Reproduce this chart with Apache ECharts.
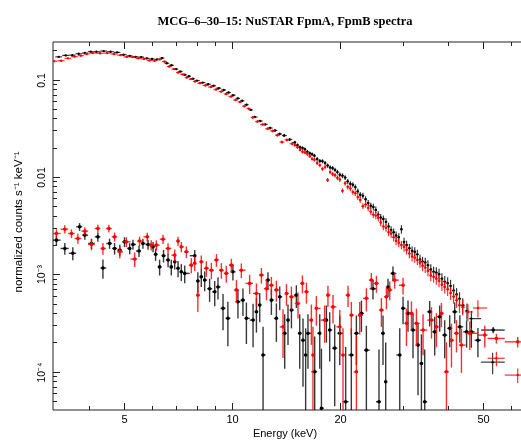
<!DOCTYPE html>
<html><head><meta charset="utf-8">
<script src="https://cdn.jsdelivr.net/npm/echarts@6/dist/echarts.min.js"></script>
<style>html,body{margin:0;padding:0;background:#fff;overflow:hidden;}#c{width:570px;height:440px;}</style>
</head><body><div id="c"></div>
<script>
(function () {
// ---- text ----
const titleText = 'MCG\u20136\u201330\u201315: NuSTAR FpmA, FpmB spectra';
const xAxisTitle = 'Energy (keV)';
const yAxisTitle = 'normalized counts s\u207B\u00B9 keV\u207B\u00B9';

// ---- axes ----
const xRange = [3.18, 79];
const yRange = [4.03e-5, 0.243];
const xMajorTicks = [5, 10, 20, 50];
const xTickLabels = ['5', '10', '20', '50'];
const xMinorTicks = [4, 6, 7, 8, 9, 30, 40, 60, 70];
const yMajorTicks = [1e-4, 1e-3, 1e-2, 1e-1];
const yTickLabels = ['10\u207B\u2074', '10\u207B\u00B3', '0.01', '0.1'];
const yMinorTicks = [5e-5, 6e-5, 7e-5, 8e-5, 9e-5,
  2e-4, 3e-4, 4e-4, 5e-4, 6e-4, 7e-4, 8e-4, 9e-4,
  2e-3, 3e-3, 4e-3, 5e-3, 6e-3, 7e-3, 8e-3, 9e-3,
  0.02, 0.03, 0.04, 0.05, 0.06, 0.07, 0.08, 0.09, 0.2];

// ---- source spectra: [energy keV, counts/s/keV, fractional error, (bin lo, bin hi)] ----
const srcFpmA = [
[3.3,0.171,0.012],[3.45,0.177,0.012],[3.6,0.178,0.012],[3.75,0.184,0.012],[3.9,0.187,0.012],[4.05,0.193,0.012],
[4.2,0.193,0.012],[4.4,0.196,0.012],[4.6,0.193,0.012],[4.8,0.190,0.012],[5.0,0.180,0.012],[5.2,0.175,0.012],
[5.4,0.171,0.013],[5.6,0.170,0.013],[5.8,0.165,0.013],[6.0,0.163,0.013],[6.2,0.161,0.013],[6.4,0.166,0.013],
[6.6,0.147,0.014],[6.8,0.140,0.014],[7.0,0.128,0.014],[7.2,0.121,0.014],[7.4,0.112,0.015],[7.6,0.108,0.015],
[7.8,0.102,0.015],[8.0,0.0975,0.015],[8.3,0.0930,0.016],[8.6,0.0895,0.016],[8.9,0.0862,0.017],[9.2,0.0815,0.017],
[9.5,0.0780,0.018],[9.8,0.0735,0.018],[10.1,0.0690,0.019],[10.4,0.0640,0.02],[10.7,0.0605,0.021],[11.0,0.0552,0.022],
[11.3,0.0488,0.023],[11.6,0.0412,0.024],[12.0,0.0375,0.025],[12.4,0.0346,0.027],[12.8,0.0318,0.028],[13.2,0.0300,0.03],
[13.6,0.0276,0.032],[14.0,0.0266,0.034],[14.5,0.0242,0.037],[15.0,0.0226,0.04],[15.25,0.0212,0.04],[15.5,0.0202,0.041],
[15.75,0.0198,0.041],[16.0,0.0192,0.042],[16.25,0.0181,0.042],[16.5,0.0175,0.043],[16.75,0.0171,0.044],[17.0,0.0165,0.045],
[17.3,0.0153,0.046],[17.6,0.0146,0.047],[17.9,0.0145,0.048],[18.2,0.0139,0.049],[18.5,0.0131,0.05],[18.8,0.0125,0.051],
[19.1,0.0123,0.052],[19.4,0.0118,0.053],[19.7,0.0112,0.054],[20.0,0.0105,0.055],[20.35,0.0103,0.057],[20.7,0.00985,0.058],
[21.05,0.0090,0.06],[21.4,0.00850,0.061],[21.75,0.0083,0.063],[22.1,0.00785,0.065],[22.45,0.0071,0.067],[22.8,0.00655,0.069],
[23.2,0.0064,0.071],[23.6,0.00590,0.073],[24.0,0.0054,0.075],[24.4,0.00505,0.077],[24.8,0.0049,0.079],[25.2,0.00458,0.081],
[25.6,0.0041,0.083],[26.0,0.00382,0.085],[26.45,0.0037,0.087],[26.9,0.00345,0.089],[27.35,0.0031,0.091],[27.8,0.00285,0.093],
[28.25,0.0027,0.095],[28.7,0.00250,0.097],[29.2,0.0024,0.099],[29.7,0.00290,0.1],[30.2,0.00215,0.102],[30.7,0.00200,0.105],
[31.25,0.00185,0.107],[31.8,0.00174,0.11],[32.35,0.00170,0.112],[32.9,0.00160,0.115],[33.45,0.00142,0.117],[34.0,0.00135,0.12],
[34.6,0.00132,0.122],[35.2,0.00124,0.125],[35.85,0.00112,0.128],[36.5,0.00106,0.13],[37.15,0.00104,0.134],[37.8,0.00100,0.137],
[38.5,0.00090,0.14],[39.2,0.00084,0.144],[39.95,0.00081,0.148],[40.7,0.00076,0.152],[41.5,0.00068,0.157],[42.3,0.00062,0.162],
[43.1,0.00056,0.17],[44.0,0.00048,0.18],[45.2,0.00042,0.19],[46.5,0.00035,0.2],[53.3,0.000125,0.25,49.5,57.6]
];
const srcFpmB = [
[3.2,0.154,0.012],[3.35,0.156,0.012],[3.5,0.165,0.012],[3.65,0.172,0.012],[3.8,0.176,0.012],[3.95,0.183,0.012],
[4.1,0.187,0.012],[4.3,0.186,0.012],[4.5,0.187,0.012],[4.7,0.183,0.012],[4.9,0.178,0.012],[5.1,0.171,0.012],
[5.3,0.170,0.013],[5.5,0.165,0.013],[5.7,0.163,0.013],[5.9,0.157,0.013],[6.1,0.156,0.013],[6.3,0.161,0.013],
[6.5,0.153,0.014],[6.7,0.136,0.014],[6.9,0.128,0.014],[7.1,0.118,0.014],[7.3,0.113,0.015],[7.5,0.105,0.015],
[7.7,0.101,0.015],[7.9,0.0955,0.015],[8.15,0.0918,0.016],[8.45,0.0870,0.016],[8.75,0.0838,0.017],[9.05,0.0790,0.017],
[9.35,0.0752,0.018],[9.65,0.0710,0.018],[9.95,0.0668,0.019],[10.25,0.0615,0.02],[10.55,0.0588,0.021],[10.85,0.0532,0.022],
[11.15,0.0503,0.023],[11.45,0.0408,0.024],[11.8,0.0370,0.025],[12.2,0.0345,0.027],[12.6,0.0312,0.028],[13.0,0.0296,0.03],
[13.4,0.0268,0.032],[13.8,0.0228,0.034],[14.25,0.0240,0.036],[14.75,0.0219,0.038],[15.0,0.0212,0.04],[15.25,0.0202,0.04],
[15.5,0.0190,0.041],[15.75,0.0181,0.041],[16.0,0.0178,0.042],[16.25,0.0172,0.042],[16.5,0.0163,0.043],[16.75,0.0153,0.044],
[17.0,0.0150,0.045],[17.3,0.0139,0.046],[17.6,0.0132,0.047],[17.9,0.0121,0.048],[18.2,0.0126,0.049],[18.5,0.0093,0.05],
[18.8,0.0112,0.051],[19.1,0.0107,0.052],[19.4,0.0104,0.053],[19.7,0.0098,0.054],[20.0,0.0094,0.055],[20.35,0.0072,0.057],
[20.7,0.0086,0.058],[21.05,0.0079,0.06],[21.4,0.0076,0.061],[21.75,0.0070,0.063],[22.1,0.0068,0.065],[22.45,0.0062,0.067],
[22.8,0.0058,0.069],[23.2,0.0050,0.071],[23.6,0.0052,0.073],[24.0,0.0048,0.075],[24.4,0.0044,0.077],[24.8,0.0041,0.079],
[25.2,0.0040,0.081],[25.6,0.0038,0.083],[26.0,0.0034,0.085],[26.45,0.0031,0.087],[26.9,0.0030,0.089],[27.35,0.0027,0.091],
[27.8,0.0026,0.093],[28.25,0.0024,0.095],[28.7,0.0022,0.097],[29.2,0.0021,0.099],[29.7,0.0020,0.1],[30.2,0.0019,0.102],
[30.7,0.00178,0.105],[31.25,0.00163,0.107],[31.8,0.00152,0.11],[32.35,0.00148,0.112],[32.9,0.00140,0.115],[33.45,0.00132,0.117],
[34.0,0.00122,0.12],[34.6,0.00117,0.122],[35.2,0.00108,0.125],[35.85,0.00097,0.128],[36.5,0.00094,0.13],[37.15,0.00090,0.134],
[37.8,0.00085,0.137],[38.5,0.00078,0.14],[39.2,0.00074,0.144],[39.95,0.00070,0.148],[40.7,0.00064,0.152],[41.5,0.00059,0.157],
[42.3,0.00054,0.162],[43.1,0.00048,0.17],[44.0,0.00046,0.18],[45.5,0.00041,0.2],[48.5,0.00045,0.2],
[54.6,0.000137,0.17,51.6,57.6],[62.6,0.000092,0.17,57.6,68]
];

// ---- background spectra: [energy keV, counts/s/keV, 1-sigma error, (bin lo, bin hi)] ----
const bkgFpmA = [
[3.25,2.24e-3,2.6e-4],[3.43,1.84e-3,2.5e-4],[3.61,1.64e-3,2.5e-4],[3.77,3.07e-3,2.8e-4],[3.90,2.52e-3,2.6e-4],
[4.07,2.07e-3,2.5e-4],[4.24,2.42e-3,2.6e-4],[4.38,1.16e-3,2.6e-4],[4.57,2.07e-3,2.5e-4],[4.72,1.84e-3,2.5e-4],
[4.88,1.77e-3,2.4e-4],[5.03,2.15e-3,2.5e-4],[5.20,1.84e-3,2.4e-4],[5.31,2.02e-3,2.4e-4],[5.52,1.73e-3,2.3e-4],
[5.66,2.07e-3,2.4e-4],[5.85,2.02e-3,2.4e-4],[6.04,1.91e-3,2.3e-4],[6.14,1.60e-3,2.3e-4],[6.30,1.19e-3,2.2e-4],
[6.46,1.55e-3,2.3e-4],[6.65,1.40e-3,2.2e-4],[6.79,1.19e-3,2.2e-4],[6.94,1.34e-3,2.2e-4],[7.09,1.15e-3,2.2e-4],
[7.24,1.06e-3,2.1e-4],[7.40,1.02e-3,2.1e-4],[7.89,1.55e-3,2.2e-4],[8.05,8.5e-4,2.0e-4],[8.23,9.4e-4,2.0e-4],
[8.41,8.7e-4,2.0e-4],[8.68,7.1e-4,1.9e-4],[8.97,6.6e-4,1.9e-4],[9.16,7.4e-4,1.9e-4],[9.46,4.46e-4,1.8e-4],
[9.76,3.52e-4,1.7e-4],[10.08,1.06e-3,2.0e-4],[10.41,5.21e-4,1.7e-4],[10.75,5.42e-4,1.7e-4],[10.99,3.52e-4,1.6e-4],
[11.47,3.38e-4,1.6e-4],[11.72,4.11e-4,1.6e-4],[11.97,4.82e-4,1.6e-4],[12.23,1.48e-4,1.4e-4],[12.62,8.7e-4,1.8e-4],
[12.90,5.42e-4,1.6e-4],[13.32,3.52e-4,1.5e-4],[13.61,5.86e-4,1.6e-4],[14.05,2.47e-4,1.4e-4],[14.35,3.38e-4,1.5e-4],
[14.67,4.28e-4,1.5e-4],[15.14,6.1e-4,1.6e-4],[15.47,2.47e-4,1.4e-4],[15.80,2.10e-4,1.4e-4],[16.07,1.48e-4,1.3e-4],
[16.31,2.47e-4,1.4e-4],[17.03,9.95e-5,1.3e-4],[17.59,2.47e-4,1.4e-4],[17.78,4.2e-5,1.3e-4],[18.36,3.38e-4,1.4e-4],
[18.75,2.67e-4,1.4e-4],[19.36,1.74e-4,1.3e-4],[20.0,2.47e-4,1.3e-4],[20.77,4.9e-5,1.3e-4],[21.54,1.48e-4,1.3e-4],
[22.25,2.47e-4,1.3e-4],[22.98,3.96e-4,1.4e-4],[23.72,1.66e-4,1.3e-4],[24.75,7.1e-4,1.6e-4],[25.72,4.9e-5,1.2e-4],
[26.39,2.47e-4,1.3e-4],[26.85,7.85e-5,1.2e-4],[27.25,7.4e-4,1.6e-4],[28.13,1.02e-3,1.8e-4],[29.38,1.48e-4,1.3e-4],
[30.01,4.46e-4,1.4e-4],[30.98,3.96e-4,1.4e-4],[31.99,2.67e-4,1.3e-4],[33.03,1.87e-4,1.3e-4],[33.76,1.21e-4,1.2e-4],
[34.48,4.9e-5,1.2e-4],[35.6,4.11e-4,1.2e-4],[36.76,2.56e-4,1.1e-4],[37.96,3.66e-4,1.1e-4],[39.2,2.37e-4,1.0e-4],
[40.48,2.78e-4,1.0e-4],[41.8,4.11e-4,1.0e-4],[43.2,2.88e-4,9e-5],[45.1,2.56e-4,8e-5],[46.5,2.56e-4,8e-5],
[48.5,2.10e-4,7e-5],[53.5,2.67e-4,2.0e-5,49.5,57.6]
];
const bkgFpmB = [
[3.25,2.62e-3,2.8e-4],[3.43,2.90e-3,2.8e-4],[3.58,2.62e-3,2.7e-4],[3.73,2.33e-3,2.7e-4],[3.90,2.77e-3,2.7e-4],
[4.07,2.02e-3,2.6e-4],[4.24,2.95e-3,2.7e-4],[4.38,1.84e-3,2.5e-4],[4.55,2.95e-3,2.7e-4],[4.72,2.42e-3,2.6e-4],
[4.88,1.70e-3,2.5e-4],[5.09,2.15e-3,2.5e-4],[5.37,1.43e-3,2.4e-4],[5.54,2.19e-3,2.5e-4],[5.82,2.42e-3,2.5e-4],
[5.97,1.99e-3,2.4e-4],[6.17,1.99e-3,2.4e-4],[6.44,2.29e-3,2.5e-4],[6.65,1.84e-3,2.4e-4],[6.94,1.57e-3,2.3e-4],
[7.09,2.19e-3,2.4e-4],[7.24,1.91e-3,2.3e-4],[7.48,1.70e-3,2.3e-4],[7.72,1.24e-3,2.2e-4],[7.89,1.30e-3,2.2e-4],
[8.05,6.1e-4,2.0e-4],[8.23,1.34e-3,2.2e-4],[8.50,1.15e-3,2.1e-4],[8.78,1.10e-3,2.1e-4],[9.07,1.40e-3,2.1e-4],
[9.36,1.10e-3,2.0e-4],[9.66,1.02e-3,2.0e-4],[9.98,1.24e-3,2.0e-4],[10.31,6.9e-4,1.8e-4],[10.64,1.10e-3,1.9e-4],
[11.22,8.05e-4,1.8e-4],[11.72,6.35e-4,1.7e-4],[12.10,9.8e-4,1.8e-4],[12.50,7.1e-4,1.7e-4],[12.90,7.7e-4,1.7e-4],
[13.32,6.9e-4,1.7e-4],[13.90,2.88e-4,1.5e-4],[14.21,6.35e-4,1.6e-4],[14.67,5.86e-4,1.6e-4],[15.30,5.01e-4,1.5e-4],
[15.74,8.05e-4,1.7e-4],[16.15,6.6e-4,1.6e-4],[16.67,3.38e-4,1.5e-4],[16.84,1.48e-4,1.4e-4],[17.21,4.46e-4,1.5e-4],
[18.15,3.38e-4,1.4e-4],[18.54,6.1e-4,1.5e-4],[19.15,4.62e-4,1.5e-4],[20.0,2.88e-4,1.4e-4],[20.42,1.48e-4,1.3e-4],
[21.09,6.1e-4,1.5e-4],[21.54,3.80e-4,1.4e-4],[22.25,9.95e-5,1.3e-4],[22.73,3.80e-4,1.4e-4],[23.72,5.65e-4,1.5e-4],
[24.49,8.7e-4,1.6e-4],[25.30,8.05e-4,1.6e-4],[26.12,4.28e-4,1.4e-4],[26.97,5.86e-4,1.5e-4],[27.55,6.9e-4,1.5e-4],
[28.44,8.7e-4,1.6e-4],[30.01,7.7e-4,1.5e-4],[30.67,3.13e-4,1.3e-4],[31.67,3.96e-4,1.3e-4],[32.70,3.13e-4,1.3e-4],
[34.12,2.67e-4,1.2e-4],[36.01,3.38e-4,1.2e-4],[37.17,2.88e-4,1.1e-4],[38.38,3.96e-4,1.1e-4],[39.63,9.95e-5,1.0e-4],
[40.93,2.10e-4,1.0e-4],[42.27,2.47e-4,9e-5],[43.64,1.87e-4,9e-5],[46.03,2.47e-4,8e-5],[50.69,2.37e-4,6e-5],
[54.6,2.19e-4,2.5e-5,51.6,57.6],[62.6,2.02e-4,2.5e-5,57.6,68]
];

const BLACK = 'rgba(0,0,0,0.78)', RED = 'rgba(255,0,0,0.82)';
const BLACK_DOT = '#000', RED_DOT = '#ff0000';
const FLOOR = 1e-6;

// bins are contiguous: edges at geometric midpoints between neighbouring energies
function toRows(input, relative) {
  const rows = input.slice().sort(function (a, b) { return a[0] - b[0]; });
  return rows.map(function (d, i) {
    const E = d[0], v = d[1], e = d[2];
    let lo = d[3], hi = d[4];
    const prev = i > 0 ? rows[i - 1][0] : null;
    const next = i < rows.length - 1 ? rows[i + 1][0] : null;
    if (lo === undefined) {
      if (prev !== null) lo = Math.max(Math.sqrt(prev * E), rows[i - 1][4] || 0);
      else lo = E * E / Math.sqrt(E * next);
    }
    if (hi === undefined) {
      if (next !== null) hi = (rows[i + 1][3] !== undefined) ? Math.min(Math.sqrt(E * next), rows[i + 1][3]) : Math.sqrt(E * next);
      else hi = E * E / Math.sqrt(E * prev);
    }
    const s = relative ? v * e : e;
    let ylo = v - s; if (ylo <= 0) ylo = FLOOR;
    return [E, v, lo, hi, ylo, v + s];
  });
}

function errSeries(name, rows, relative, color, dot, r, lw, z) {
  return {
    type: 'custom', name: name, z: z, clip: true,
    encode: { x: 0, y: 1 },
    data: toRows(rows, relative),
    renderItem: function (params, api) {
      const x = api.value(0), y = api.value(1);
      const p = api.coord([x, y]);
      const pl = api.coord([api.value(2), y]);
      const ph = api.coord([api.value(3), y]);
      const pb = api.coord([x, api.value(4)]);
      const pt = api.coord([x, api.value(5)]);
      const st = { stroke: color, lineWidth: lw };
      return {
        type: 'group', children: [
          { type: 'line', shape: { x1: pl[0], y1: p[1], x2: ph[0], y2: p[1] }, style: st },
          { type: 'line', shape: { x1: p[0], y1: pt[1], x2: p[0], y2: pb[1] }, style: st },
          { type: 'circle', shape: { cx: p[0], cy: p[1], r: r }, style: { fill: dot } }
        ]
      };
    }
  };
}

const chart = echarts.init(document.getElementById('c'), null, { renderer: 'canvas' });
const GRID = { left: 53, top: 42, width: 501, height: 368 };
chart.setOption({
  animation: false,
  backgroundColor: '#fff',
  title: {
    text: titleText, left: 280, top: 10, textAlign: 'center',
    textStyle: { fontFamily: 'Liberation Serif', fontWeight: 'bold', fontSize: 12.5, color: '#000' }
  },
  grid: Object.assign({ show: true, borderColor: '#222', borderWidth: 1, backgroundColor: 'transparent' }, GRID),
  xAxis: { type: 'log', logBase: 10, min: xRange[0], max: xRange[1],
    axisLine: { show: false }, axisTick: { show: false }, axisLabel: { show: false }, splitLine: { show: false } },
  yAxis: { type: 'log', logBase: 10, min: yRange[0], max: yRange[1],
    axisLine: { show: false }, axisTick: { show: false }, axisLabel: { show: false }, splitLine: { show: false } },
  series: [
    errSeries('bkgA', bkgFpmA, false, BLACK, BLACK_DOT, 1.8, 1.4, 2),
    errSeries('bkgB', bkgFpmB, false, RED, RED_DOT, 1.8, 1.4, 3),
    errSeries('srcA', srcFpmA, true, BLACK, BLACK_DOT, 1.2, 1.2, 4),
    errSeries('srcB', srcFpmB, true, RED, RED_DOT, 1.2, 1.2, 5)
  ]
});

// ticks and labels positioned through the axes' own scales
const g = [];
const gTop = GRID.top, gBottom = GRID.top + GRID.height, gLeft = GRID.left;
const tickStyle = { stroke: '#222', lineWidth: 1 };
function xpx(v) { return chart.convertToPixel({ xAxisIndex: 0 }, v); }
function ypx(v) { return chart.convertToPixel({ yAxisIndex: 0 }, v); }
xMajorTicks.forEach(function (v, i) {
  const x = Math.round(xpx(v)) + 0.5;
  g.push({ type: 'line', shape: { x1: x, y1: gBottom, x2: x, y2: gBottom - 7 }, style: tickStyle, z: 10 });
  g.push({ type: 'line', shape: { x1: x, y1: gTop, x2: x, y2: gTop + 7 }, style: tickStyle, z: 10 });
  g.push({ type: 'text', x: x, y: gBottom + 10, style: { text: xTickLabels[i], font: '11px "Liberation Sans"', fill: '#000', textAlign: 'center', textVerticalAlign: 'middle' }, z: 10 });
});
xMinorTicks.forEach(function (v) {
  const x = Math.round(xpx(v)) + 0.5;
  g.push({ type: 'line', shape: { x1: x, y1: gBottom, x2: x, y2: gBottom - 4 }, style: tickStyle, z: 10 });
  g.push({ type: 'line', shape: { x1: x, y1: gTop, x2: x, y2: gTop + 4 }, style: tickStyle, z: 10 });
});
yMajorTicks.forEach(function (v, i) {
  const y = Math.round(ypx(v)) + 0.5;
  g.push({ type: 'line', shape: { x1: gLeft, y1: y, x2: gLeft + 7, y2: y }, style: tickStyle, z: 10 });
  g.push({ type: 'text', x: 42, y: y, rotation: Math.PI / 2, style: { text: yTickLabels[i], font: '10.5px "Liberation Sans"', fill: '#000', textAlign: 'center', textVerticalAlign: 'middle' }, z: 10 });
});
yMinorTicks.forEach(function (v) {
  const y = Math.round(ypx(v)) + 0.5;
  g.push({ type: 'line', shape: { x1: gLeft, y1: y, x2: gLeft + 4, y2: y }, style: tickStyle, z: 10 });
});
g.push({ type: 'text', x: 285, y: 434, style: { text: xAxisTitle, font: '11px "Liberation Sans"', fill: '#000', textAlign: 'center', textVerticalAlign: 'middle' }, z: 10 });
g.push({ type: 'text', x: 19, y: 222, rotation: Math.PI / 2, style: { text: yAxisTitle, font: '11.5px "Liberation Sans"', fill: '#000', textAlign: 'center', textVerticalAlign: 'middle' }, z: 10 });
chart.setOption({ graphic: g });
})();
</script></body></html>
